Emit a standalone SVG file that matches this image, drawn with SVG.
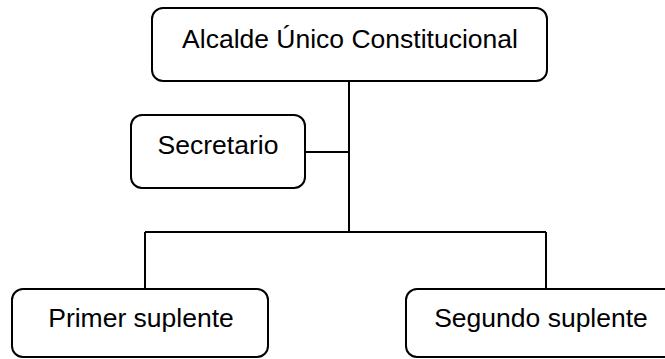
<svg xmlns="http://www.w3.org/2000/svg" width="665" height="359" viewBox="0 0 665 359">
<style>
.box{fill:#fff;stroke:#000;stroke-width:2}
.lbl{font-family:"Liberation Sans",Arial,sans-serif;font-size:26.5px;fill:#000;text-anchor:middle}
.con{fill:none;stroke:#000;stroke-width:2}
</style>
<rect width="665" height="359" fill="#fff"/>
<g id="connectors">
<path class="con" d="M349,81 V232"/>
<path class="con" d="M305,152 H349"/>
<path class="con" d="M145,232 H546"/>
<path class="con" d="M145,232 V289"/>
<path class="con" d="M546,232 V289"/>
</g>
<g id="alcalde">
<rect class="box" x="152" y="8" width="395" height="73" rx="11"/>
<text class="lbl" x="350" y="48">Alcalde Único Constitucional</text>
</g>
<g id="secretario">
<rect class="box" x="131" y="115" width="174" height="73" rx="11"/>
<text class="lbl" x="218" y="154">Secretario</text>
</g>
<g id="primer">
<rect class="box" x="12" y="289" width="256" height="68" rx="11"/>
<text class="lbl" x="141" y="327">Primer suplente</text>
</g>
<g id="segundo">
<rect class="box" x="406" y="289" width="270" height="68" rx="11"/>
<text class="lbl" x="541" y="327">Segundo suplente</text>
</g>
</svg>
